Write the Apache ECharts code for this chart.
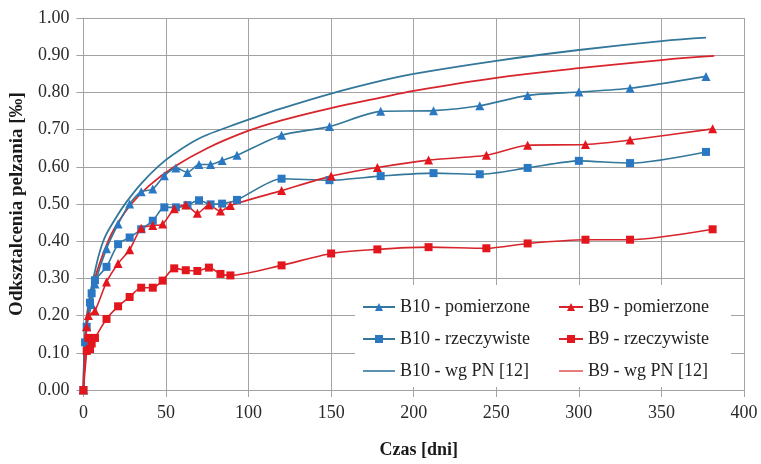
<!DOCTYPE html>
<html>
<head>
<meta charset="utf-8">
<script src="https://cdn.jsdelivr.net/npm/echarts@6/dist/echarts.min.js"></script>
<style>
html,body{margin:0;padding:0;background:#fff;}
#chart{width:761px;height:464px;}
</style>
</head>
<body>
<div id="chart"></div>
<script>
// ---- data ----
const xTicks = [0, 50, 100, 150, 200, 250, 300, 350, 400];
const yTicks = [0, 0.1, 0.2, 0.3, 0.4, 0.5, 0.6, 0.7, 0.8, 0.9, 1.0];

const b10PomDays = [0, 2, 5, 7, 14, 21, 28, 35, 42, 49, 56, 63, 70, 77, 84, 93, 120, 149, 180, 212, 240, 269, 300, 331, 377];
const b10PomVals = [0, 0.17, 0.23, 0.285, 0.38, 0.446, 0.50, 0.533, 0.54, 0.576, 0.597, 0.585, 0.606, 0.606, 0.617, 0.631, 0.685, 0.708, 0.749, 0.751, 0.764, 0.792, 0.801, 0.811, 0.843];

const b10RzDays = [0, 1, 2, 4, 5, 7, 14, 21, 28, 35, 42, 49, 56, 63, 70, 77, 84, 93, 120, 149, 180, 212, 240, 269, 300, 331, 377];
const b10RzVals = [0, 0.128, 0.17, 0.235, 0.26, 0.295, 0.331, 0.392, 0.41, 0.432, 0.455, 0.491, 0.491, 0.497, 0.51, 0.499, 0.501, 0.511, 0.568, 0.564, 0.575, 0.583, 0.58, 0.597, 0.616, 0.61, 0.64];

const b10PnDays = [0, 1, 3, 6, 12, 20, 26, 35, 45, 55, 70, 85, 100, 120, 150, 180, 200, 250, 300, 350, 377];
const b10PnVals = [0, 0.15, 0.23, 0.30, 0.40, 0.465, 0.505, 0.555, 0.60, 0.635, 0.676, 0.703, 0.727, 0.757, 0.797, 0.831, 0.85, 0.885, 0.914, 0.938, 0.947];

const b9PomDays = [0, 2, 3, 7, 14, 21, 28, 35, 42, 48, 55, 62, 69, 76, 83, 89, 120, 150, 178, 209, 244, 269, 304, 331, 381];
const b9PomVals = [0, 0.17, 0.20, 0.213, 0.29, 0.34, 0.377, 0.435, 0.442, 0.446, 0.487, 0.497, 0.475, 0.497, 0.481, 0.496, 0.536, 0.575, 0.598, 0.618, 0.631, 0.658, 0.66, 0.672, 0.702];

const b9RzDays = [0, 2, 3, 4, 5, 7, 14, 21, 28, 35, 42, 48, 55, 62, 69, 76, 83, 89, 120, 150, 178, 209, 244, 269, 304, 331, 381];
const b9RzVals = [0, 0.105, 0.14, 0.11, 0.125, 0.14, 0.191, 0.225, 0.25, 0.275, 0.275, 0.294, 0.327, 0.322, 0.32, 0.329, 0.312, 0.308, 0.335, 0.367, 0.378, 0.384, 0.381, 0.394, 0.404, 0.404, 0.432];

const b9PnDays = [0, 1, 3, 7, 15, 21, 29, 40, 55, 75, 100, 120, 150, 180, 200, 250, 300, 350, 382];
const b9PnVals = [0, 0.13, 0.21, 0.30, 0.40, 0.45, 0.50, 0.55, 0.60, 0.65, 0.697, 0.725, 0.758, 0.786, 0.804, 0.839, 0.865, 0.887, 0.898];

const names = ['B10 - pomierzone', 'B10 - rzeczywiste', 'B10 - wg PN [12]', 'B9 - pomierzone', 'B9 - rzeczywiste', 'B9 - wg PN [12]'];

// ---- chart ----
const zip = (a, b) => a.map((d, i) => [d, b[i]]);
const FONT = 'Liberation Serif';
const BLUE_M = '#2a78c4', BLUE_L = '#33779a';
const RED_M = '#e3161d', RED_L = '#d8252c';
const GRID_C = '#a3a3a3';
const LINE_ICON = 'path://M0,0 L40,0 L40,2 L0,2 Z';

function lineSeries(name, data, mColor, lColor, symbol, size, smooth) {
  return {
    name, type: 'line', data,
    symbol: symbol, symbolSize: size, showSymbol: symbol !== 'none',
    smooth: smooth,
    itemStyle: { color: mColor },
    lineStyle: { color: lColor, width: symbol === 'none' ? 1.8 : 1.6 },
    emphasis: { disabled: true },
    animation: false
  };
}

const chart = echarts.init(document.getElementById('chart'), null, { renderer: 'canvas' });
chart.setOption({
  backgroundColor: '#fff',
  animation: false,
  textStyle: { fontFamily: FONT },
  grid: { left: 82, right: 17, top: 18, bottom: 69, containLabel: false },
  xAxis: {
    type: 'value', min: xTicks[0], max: xTicks[xTicks.length - 1], interval: 50,
    name: 'Czas [dni]', nameLocation: 'middle', nameGap: 51,
    nameTextStyle: { fontFamily: FONT, fontSize: 18, fontWeight: 'bold', color: '#1a1a1a', padding: [0, 0, 0, 10] },
    axisLine: { show: true, lineStyle: { color: GRID_C, width: 1 } },
    axisTick: { show: true, length: 7, lineStyle: { color: GRID_C } },
    axisLabel: { fontFamily: FONT, fontSize: 18, color: '#2a2a2a', margin: 14 },
    splitLine: { show: true, lineStyle: { color: GRID_C, width: 1 } }
  },
  yAxis: {
    type: 'value', min: yTicks[0], max: yTicks[yTicks.length - 1], interval: 0.1,
    name: 'Odksztalcenia pelzania [‰]', nameLocation: 'middle', nameGap: 56,
    nameTextStyle: { fontFamily: FONT, fontSize: 19, fontWeight: 'bold', color: '#1a1a1a' },
    axisLine: { show: true, lineStyle: { color: GRID_C, width: 1 } },
    axisTick: { show: true, length: 7, lineStyle: { color: GRID_C } },
    axisLabel: { fontFamily: FONT, fontSize: 18, color: '#2a2a2a', margin: 14,
      formatter: v => v.toFixed(2) },
    splitLine: { show: true, lineStyle: { color: GRID_C, width: 1 } }
  },
  graphic: [{
    type: 'rect', left: 355, top: 285, z: 1,
    shape: { width: 376, height: 102 },
    style: { fill: '#ffffff' }
  }],
  legend: [
    {
      data: [names[0], names[1], { name: names[2], icon: LINE_ICON }], orient: 'vertical',
      left: 362, top: 297, padding: 0, itemGap: 12,
      itemWidth: 32, itemHeight: 10,
      textStyle: { fontFamily: FONT, fontSize: 18, color: '#222', lineHeight: 20 },
      selectedMode: false
    },
    {
      data: [names[3], names[4], { name: names[5], icon: LINE_ICON }], orient: 'vertical',
      left: 558, top: 297, padding: 0, itemGap: 12,
      itemWidth: 24, itemHeight: 10,
      textStyle: { fontFamily: FONT, fontSize: 18, color: '#222', lineHeight: 20 },
      selectedMode: false
    }
  ],
  series: [
    lineSeries(names[2], zip(b10PnDays, b10PnVals), BLUE_L, BLUE_L, 'none', 0, 0.4),
    lineSeries(names[5], zip(b9PnDays, b9PnVals), RED_L, RED_L, 'none', 0, 0.4),
    lineSeries(names[0], zip(b10PomDays, b10PomVals), BLUE_M, BLUE_L, 'triangle', 9, 0.25),
    lineSeries(names[1], zip(b10RzDays, b10RzVals), BLUE_M, BLUE_L, 'rect', 8, 0.25),
    lineSeries(names[3], zip(b9PomDays, b9PomVals), RED_M, RED_L, 'triangle', 9, 0.25),
    lineSeries(names[4], zip(b9RzDays, b9RzVals), RED_M, RED_L, 'rect', 8, 0.25)
  ]
});
</script>
</body>
</html>
